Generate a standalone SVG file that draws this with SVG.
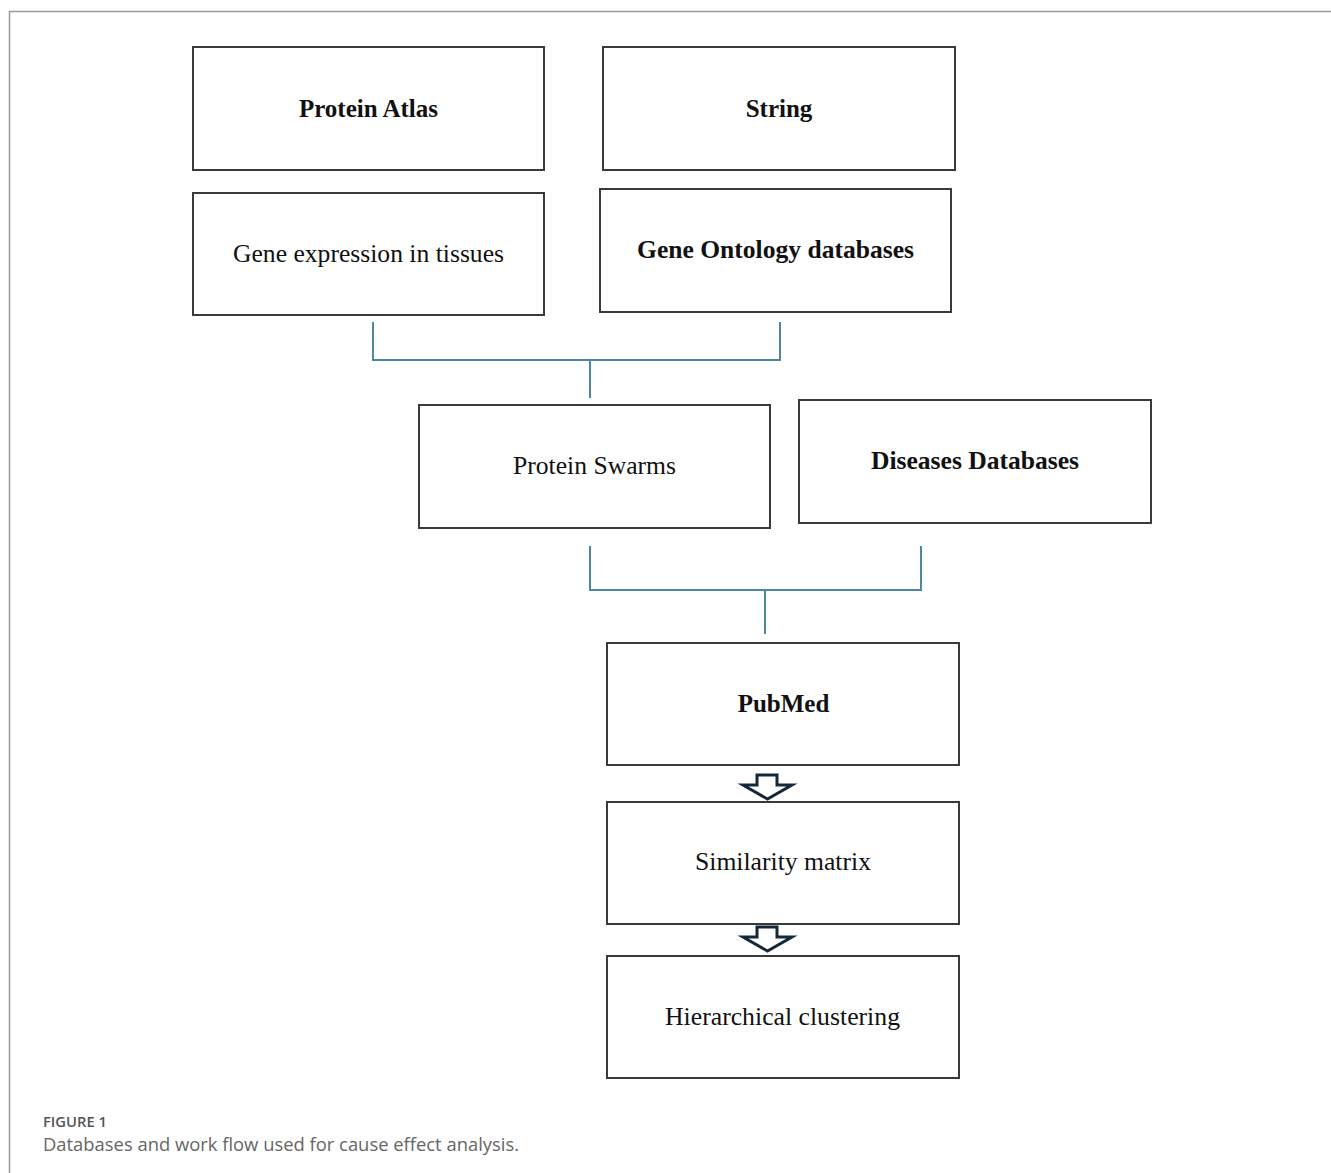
<svg xmlns="http://www.w3.org/2000/svg" width="1331" height="1173" viewBox="0 0 1331 1173">
<style>
.box{fill:#fff;stroke:#3a3a3a;stroke-width:2}
.t{font-family:"Liberation Serif","Times New Roman",serif;font-size:25px;fill:#111;text-anchor:middle}
.b{font-weight:bold}
.conn{fill:none;stroke:#4f87a3;stroke-width:2}
.arr{fill:#fff;stroke:#14283a;stroke-width:3;stroke-linejoin:miter}
.cap1{font-family:"Open Sans","Liberation Sans",sans-serif;font-size:14px;font-weight:600;fill:#555}
.cap2{font-family:"Open Sans","Liberation Sans",sans-serif;font-size:18px;fill:#666}
</style>
<rect width="1331" height="1173" fill="#fff"/>
<path d="M9.5 1173 V11.5 H1331" fill="none" stroke="#9a9a9a" stroke-width="1.5"/>

<g id="protein-atlas"><rect class="box" x="193" y="47" width="351" height="123"/><text class="t b" x="368.5" y="117">Protein Atlas</text></g>
<g id="gene-expression"><rect class="box" x="193" y="193" width="351" height="122"/><text class="t" x="368.5" y="262" textLength="271" lengthAdjust="spacingAndGlyphs">Gene expression in tissues</text></g>
<g id="string"><rect class="box" x="603" y="47" width="352" height="123"/><text class="t b" x="779" y="117">String</text></g>
<g id="gene-ontology"><rect class="box" x="600" y="189" width="351" height="123"/><text class="t b" x="775.5" y="258" textLength="277" lengthAdjust="spacingAndGlyphs">Gene Ontology databases</text></g>
<g id="protein-swarms"><rect class="box" x="419" y="405" width="351" height="123"/><text class="t" x="594.5" y="474" textLength="163" lengthAdjust="spacingAndGlyphs">Protein Swarms</text></g>
<g id="diseases"><rect class="box" x="799" y="400" width="352" height="123"/><text class="t b" x="975" y="469" textLength="208" lengthAdjust="spacingAndGlyphs">Diseases Databases</text></g>
<g id="pubmed"><rect class="box" x="607" y="643" width="352" height="122"/><text class="t b" x="783.5" y="712">PubMed</text></g>
<g id="similarity"><rect class="box" x="607" y="802" width="352" height="122"/><text class="t" x="783" y="870" textLength="176" lengthAdjust="spacingAndGlyphs">Similarity matrix</text></g>
<g id="hierarchical"><rect class="box" x="607" y="956" width="352" height="122"/><text class="t" x="782.5" y="1025" textLength="235" lengthAdjust="spacingAndGlyphs">Hierarchical clustering</text></g>

<g id="connectors">
<path class="conn" d="M373 322 V360 H780 V322 M590 360 V398"/>
<path class="conn" d="M590 546 V590 H921 V546 M765 590 V634"/>
<path class="arr" d="M757 775 H777 V785 H792 L767.5 799 L743 785 H757 Z"/>
<path class="arr" d="M757 927 H777 V937 H792 L767.5 951 L743 937 H757 Z"/>
</g>

<text class="cap1" x="43" y="1127" textLength="64" lengthAdjust="spacingAndGlyphs">FIGURE 1</text>
<text class="cap2" x="43" y="1151" textLength="476" lengthAdjust="spacingAndGlyphs">Databases and work flow used for cause effect analysis.</text>
</svg>
